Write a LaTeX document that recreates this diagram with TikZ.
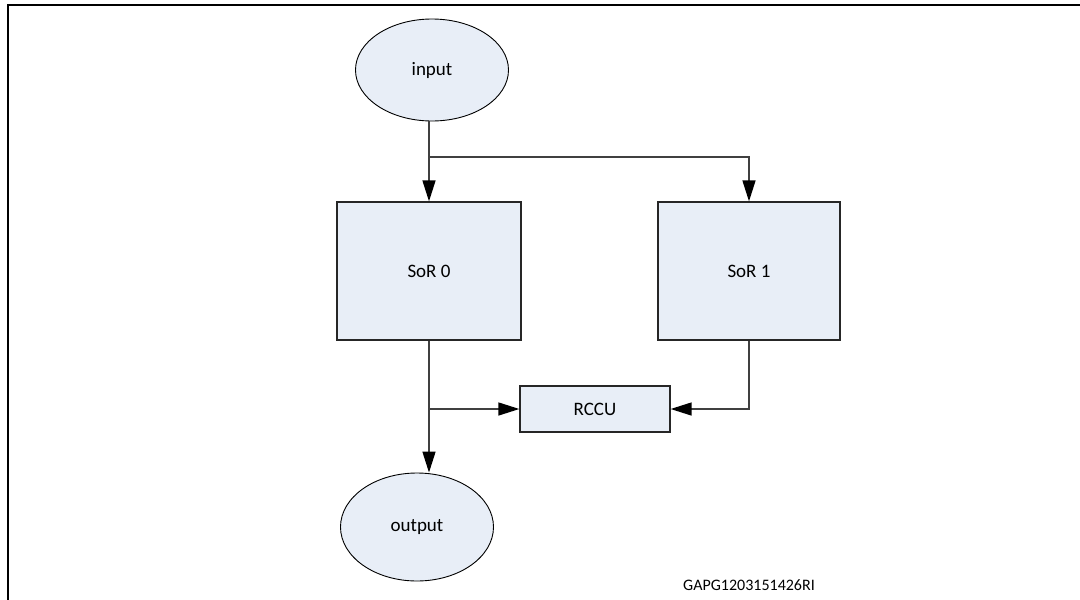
\documentclass[tikz,border=0pt]{standalone}
\usepackage{fontspec}
\setmainfont{Carlito}
\usetikzlibrary{arrows.meta,shapes.geometric}
\definecolor{boxfill}{RGB}{232,238,247}
\definecolor{wirecol}{RGB}{64,64,64}
\begin{document}
\begin{tikzpicture}[x=1pt,y=-1pt,
  lbl/.style={font=\fontsize{19}{23}\selectfont},
  blk/.style={lbl, draw=black!85, line width=1.3pt, fill=boxfill, inner sep=0pt},
  term/.style={lbl, ellipse, draw=black, line width=0.9pt, fill=boxfill, inner sep=0pt},
  wire/.style={draw=wirecol, line width=1.4pt},
  arr/.style={wire, -{Triangle[length=21pt,width=13pt,color=black]}}]
  \useasboundingbox (0,0) rectangle (1080,600);

  % page frame (top and left edges)
  \draw[line width=2pt] (8,600) -- (8,5) -- (1080,5);

  % nodes
  \node[term, minimum width=153pt, minimum height=102pt] (in) at (432,70) {input};
  \node[blk, minimum width=184pt, minimum height=138pt] (sor0) at (429,271) {SoR 0};
  \node[blk, minimum width=182pt, minimum height=138pt] (sor1) at (749,271) {SoR 1};
  \node[blk, minimum width=150pt, minimum height=46pt] (rccu) at (595,409) {RCCU};
  \node[term, minimum width=153pt, minimum height=108pt] (out) at (417,527) {output};
  \node[font=\fontsize{16}{19}\selectfont] (ref) at (749,585) {GAPG1203151426RI};

  % connectors
  \coordinate (split) at (429,157);
  \draw[arr] (sor0.north |- in.south) -- (sor0.north);
  \draw[arr] (split) -| (sor1.north);
  \draw[arr] (sor0.south) -- (sor0.south |- out.north);
  \coordinate (join) at (sor0.south |- rccu.west);
  \draw[arr] (join) -- (rccu.west);
  \draw[arr] (sor1.south) |- (rccu.east);
\end{tikzpicture}
\end{document}
